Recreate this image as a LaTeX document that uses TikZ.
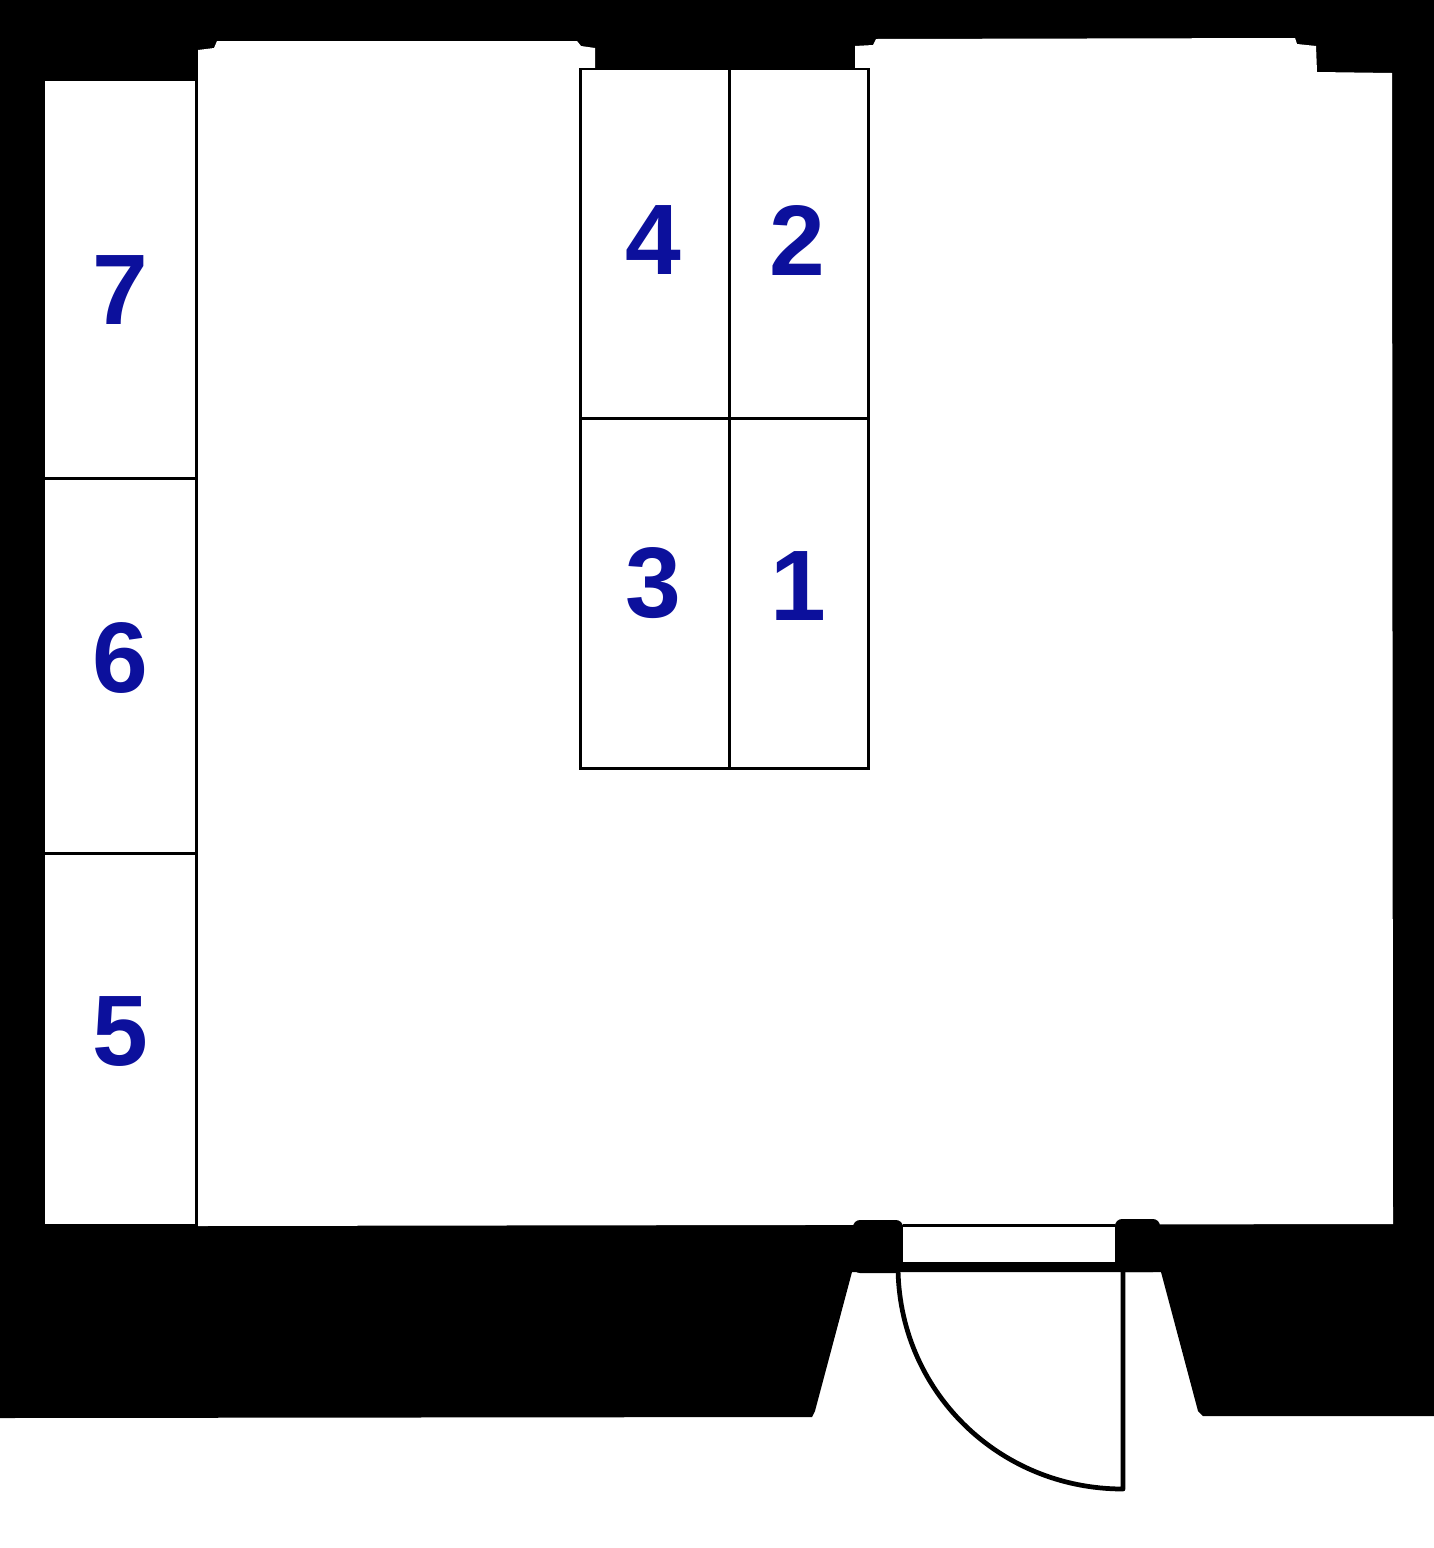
\documentclass[tikz,border=0pt]{standalone}
\usepackage{fontspec}
\setmainfont{Liberation Sans}
\usepackage{tikz}
\definecolor{labelblue}{RGB}{12,16,156}
\tikzset{
  binlabel/.style={text=labelblue, inner sep=0pt, font=\bfseries\fontsize{28.5}{30}\selectfont},
  wall/.style={fill=black, draw=none},
  room/.style={fill=white, draw=none},
  shelf/.style={draw=black, line width=0.85pt},
  doorline/.style={draw=black, line width=1.35pt, line cap=round, line join=round}
}

\begin{document}
\begin{tikzpicture}[x=0.01cm, y=-0.01cm]
    \useasboundingbox (0, 0) rectangle (1434, 1548);

    % walls
    \fill[wall] (0, 0) -- (1434, 0) -- (1434, 1416) -- (1203, 1416) -- (1198, 1411) -- (1161, 1272) -- (852, 1272) -- (815, 1411) -- (812, 1417) -- (0, 1418) -- cycle;

    % room
    \fill[room] (198, 50) -- (214, 48) -- (217, 41) -- (577, 41) -- (581, 46) -- (595, 48) -- (595, 68) -- (855, 68) -- (855, 46) -- (873, 45) -- (876, 39) -- (1295, 38) -- (1297, 44) -- (1316, 46) -- (1317, 72) -- (1392, 73) -- (1393, 1224) -- (198, 1226) -- cycle;
    \fill[room] (45, 81) rectangle (195, 1224);

    % door posts
    \fill[wall, rounded corners=2pt] (853, 1220) rectangle (903, 1273);
    \fill[wall, rounded corners=2pt] (1115, 1219) rectangle (1160, 1272);
    \fill[wall] (800, 1226) rectangle (860, 1272);
    \fill[wall] (1150, 1225) rectangle (1200, 1272);
    \fill[room] (903, 1226) rectangle (1115, 1262);
    \draw[shelf] (903, 1225) -- (1115, 1225);
    \draw[shelf] (903, 1263) -- (1115, 1263);

    % door
    \draw[doorline] (898, 1266) .. controls (898, 1390) and (998, 1489) .. (1123, 1489) -- (1123, 1266);

    % left shelves
    \draw[shelf] (197, 81) -- (197, 1226);
    \draw[shelf] (45, 478) -- (195, 478);
    \draw[shelf] (45, 853) -- (195, 853);

    % middle shelves
    \draw[shelf] (580, 69) rectangle (868, 768);
    \draw[shelf] (729, 69) -- (729, 768);
    \draw[shelf] (580, 418) -- (868, 418);

    \node[binlabel] (seven) at (120, 290) {7};
    \node[binlabel] (six) at (120, 658) {6};
    \node[binlabel] (five) at (120, 1031) {5};
    \node[binlabel] (four) at (653, 240) {4};
    \node[binlabel] (two) at (797, 241) {2};
    \node[binlabel] (three) at (653, 583) {3};
    \node[binlabel] (one) at (798, 586) {1};
\end{tikzpicture}
\end{document}
